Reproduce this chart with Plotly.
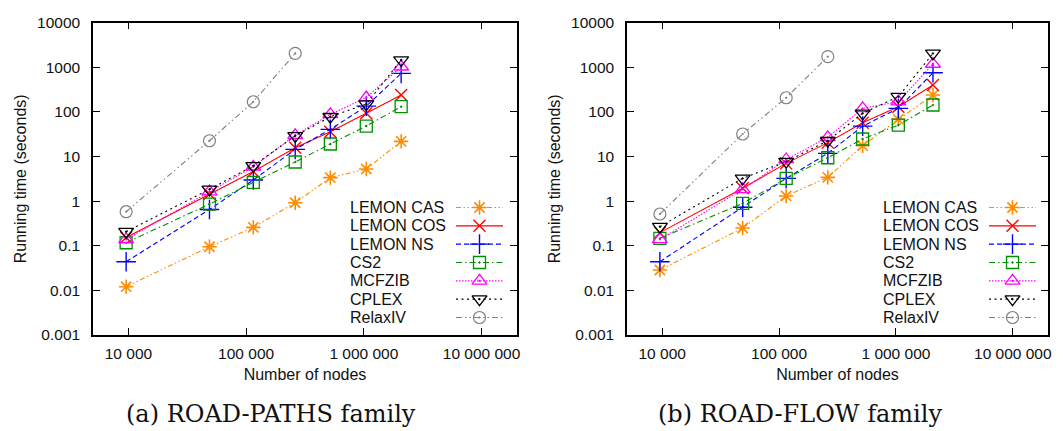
import plotly.graph_objects as go

# Number of nodes of the road network instances (DC, DE, NH, NV, WI, FL, TX)
nodes = [9559, 48812, 115055, 261155, 519157, 1048506, 2073870]

# ROAD-PATHS family: running time in seconds
paths_lemon_cas = [0.0121, 0.095, 0.259, 0.92, 3.36, 5.25, 21.9]
paths_lemon_cos = [0.154, 1.45, 4.6, 15.8, 36, 93, 239]
paths_lemon_ns = [0.044, 0.65, 2.98, 14.5, 40.7, 135, 731]
paths_cs2 = [0.117, 0.86, 2.64, 7.55, 19.1, 48.3, 131]
paths_mcfzib = [0.139, 1.63, 5.9, 30, 88, 210, 1030]
paths_cplex = [0.207, 1.84, 6.2, 29, 78, 150, 1456]
paths_relaxiv = [0.58, 22.6, 169, 2055]

# ROAD-FLOW family: running time in seconds
flow_lemon_cas = [0.0286, 0.25, 1.31, 3.41, 17.5, 68, 239]
flow_lemon_cos = [0.197, 1.94, 7.03, 20.5, 57, 131, 401]
flow_lemon_ns = [0.044, 0.73, 3.24, 11.8, 48, 120, 757]
flow_cs2 = [0.147, 0.89, 3.24, 9.4, 24.7, 50.8, 143]
flow_mcfzib = [0.139, 1.84, 8.6, 27, 120, 170, 1186]
flow_cplex = [0.268, 3.24, 7.7, 22.6, 93, 220, 2050]
flow_relaxiv = [0.515, 32, 208, 1730]

series_names = ["LEMON CAS", "LEMON COS", "LEMON NS", "CS2", "MCFZIB", "CPLEX", "RelaxIV"]

x_tick_vals = [1e4, 1e5, 1e6, 1e7]
x_tick_text = ["10 000", "100 000", "1 000 000", "10 000 000"]
y_tick_vals = [0.001, 0.01, 0.1, 1, 10, 100, 1000, 10000]
y_tick_text = ["0.001", "0.01", "0.1", "1", "10", "100", "1000", "10000"]

captions = ["(a) ROAD-PATHS family", "(b) ROAD-FLOW family"]
x_title = "Number of nodes"
y_title = "Running time (seconds)"

# line / marker style for each solver
styles = {
    "LEMON CAS": dict(color="#ff8c00", dash="5px,2.5px,1.5px,2.5px,1.5px,2.5px", symbol="asterisk-open", size=12, mlw=1.6),
    "LEMON COS": dict(color="#ff0000", dash="solid", symbol="x-thin-open", size=12, mlw=1.4),
    "LEMON NS": dict(color="#0000ff", dash="5px,3px", symbol="cross-thin-open", size=14, mlw=1.4),
    "CS2": dict(color="#009000", dash="6px,3px,1.5px,3px", symbol="square-open-dot", size=12, mlw=1.3),
    "MCFZIB": dict(color="#ff00ff", dash="1.5px,1.5px", symbol="triangle-up-open-dot", size=13, mlw=1.3),
    "CPLEX": dict(color="#000000", dash="2px,3.5px", symbol="triangle-down-open-dot", size=13, mlw=1.3),
    "RelaxIV": dict(color="#808080", dash="6px,3px,1.5px,3px,1.5px,3px", symbol="circle-open-dot", size=12, mlw=1.2),
}

panels = [
    dict(data=[paths_lemon_cas, paths_lemon_cos, paths_lemon_ns, paths_cs2,
               paths_mcfzib, paths_cplex, paths_relaxiv],
         xaxis="x", yaxis="y", xdom=(93, 517), leg_text_x=348, leg_key=(456, 503),
         caption_x=271),
    dict(data=[flow_lemon_cas, flow_lemon_cos, flow_lemon_ns, flow_cs2,
               flow_mcfzib, flow_cplex, flow_relaxiv],
         xaxis="x2", yaxis="y2", xdom=(627, 1048), leg_text_x=881, leg_key=(989, 1036),
         caption_x=800),
]

W, H = 1063, 431
plot_top, plot_bottom = 22.7, 335
legend_top, legend_bottom = 207.5, 317.5     # centre of the first / last key row
row_step = (legend_bottom - legend_top) / (len(series_names) - 1)
font_family = "Liberation Sans, Arial, sans-serif"
text_color = "#111111"


def marker_style(st):
    return dict(symbol=st["symbol"], size=st["size"], color=st["color"],
                line=dict(color=st["color"], width=st["mlw"]))


fig = go.Figure()
annotations = []
layout_axes = {}

for p_idx, panel in enumerate(panels):
    # data traces
    for name, values in zip(series_names, panel["data"]):
        st = styles[name]
        fig.add_trace(go.Scatter(
            x=nodes[:len(values)], y=values, name=name, mode="lines+markers",
            xaxis=panel["xaxis"], yaxis=panel["yaxis"], showlegend=False,
            line=dict(color=st["color"], width=1.1, dash=st["dash"]),
            marker=marker_style(st),
        ))

    # key: sample line with a marker in its middle, label to the left
    lx, ly = f"x{3 + p_idx}", f"y{3 + p_idx}"
    for row, name in enumerate(series_names):
        st = styles[name]
        fig.add_trace(go.Scatter(
            x=[0, 1], y=[row, row], mode="lines", xaxis=lx, yaxis=ly,
            showlegend=False, hoverinfo="skip",
            line=dict(color=st["color"], width=1.1, dash=st["dash"]),
        ))
        fig.add_trace(go.Scatter(
            x=[0.5], y=[row], mode="markers", xaxis=lx, yaxis=ly, cliponaxis=False,
            showlegend=False, hoverinfo="skip", marker=marker_style(st),
        ))
        annotations.append(dict(
            text=name, xref="paper", x=panel["leg_text_x"] / W, xanchor="left",
            yref=ly, y=row, yanchor="middle", showarrow=False,
            font=dict(family=font_family, size=16, color=text_color),
        ))

    x0, x1 = panel["xdom"]
    axis_common = dict(showline=True, linecolor="black", linewidth=1.5, mirror="ticks",
                       ticks="inside", ticklen=7, tickwidth=1.2, tickcolor="black",
                       showgrid=False, zeroline=False, automargin=False,
                       tickfont=dict(family=font_family, size=15.5, color=text_color))
    xa = dict(axis_common, type="log", range=[3.699, 7.301], domain=[x0 / W, x1 / W],
              tickvals=x_tick_vals, ticktext=x_tick_text, anchor=panel["yaxis"],
              ticklabelstandoff=4,
              title=dict(text=x_title, standoff=7,
                         font=dict(family=font_family, size=16, color=text_color)))
    ya = dict(axis_common, type="log", range=[-3, 4],
              domain=[1 - plot_bottom / H, 1 - plot_top / H],
              tickvals=y_tick_vals, ticktext=y_tick_text, anchor=panel["xaxis"],
              ticklabelstandoff=8,
              title=dict(text=y_title, standoff=6,
                         font=dict(family=font_family, size=16, color=text_color)))
    suffix = "" if p_idx == 0 else "2"
    layout_axes[f"xaxis{suffix}"] = xa
    layout_axes[f"yaxis{suffix}"] = ya

    # key axes padded by half a row so the first and last rows are not clipped
    k0, k1 = panel["leg_key"]
    layout_axes[f"xaxis{3 + p_idx}"] = dict(domain=[k0 / W, k1 / W], range=[0, 1],
                                           visible=False, anchor=ly, fixedrange=True)
    layout_axes[f"yaxis{3 + p_idx}"] = dict(
        domain=[1 - (legend_bottom + row_step / 2) / H, 1 - (legend_top - row_step / 2) / H],
        range=[len(series_names) - 0.5, -0.5],
        visible=False, anchor=lx, fixedrange=True)

    annotations.append(dict(
        text=captions[p_idx], xref="paper", x=panel["caption_x"] / W, xanchor="center",
        yref="paper", y=1 - 414 / H, yanchor="middle", showarrow=False,
        font=dict(family="DejaVu Serif, serif", size=24, color=text_color),
    ))

fig.update_layout(
    width=W, height=H, margin=dict(l=0, r=0, t=0, b=0),
    paper_bgcolor="white", plot_bgcolor="white", showlegend=False,
    annotations=annotations, **layout_axes,
)

fig.write_html("out.html")
